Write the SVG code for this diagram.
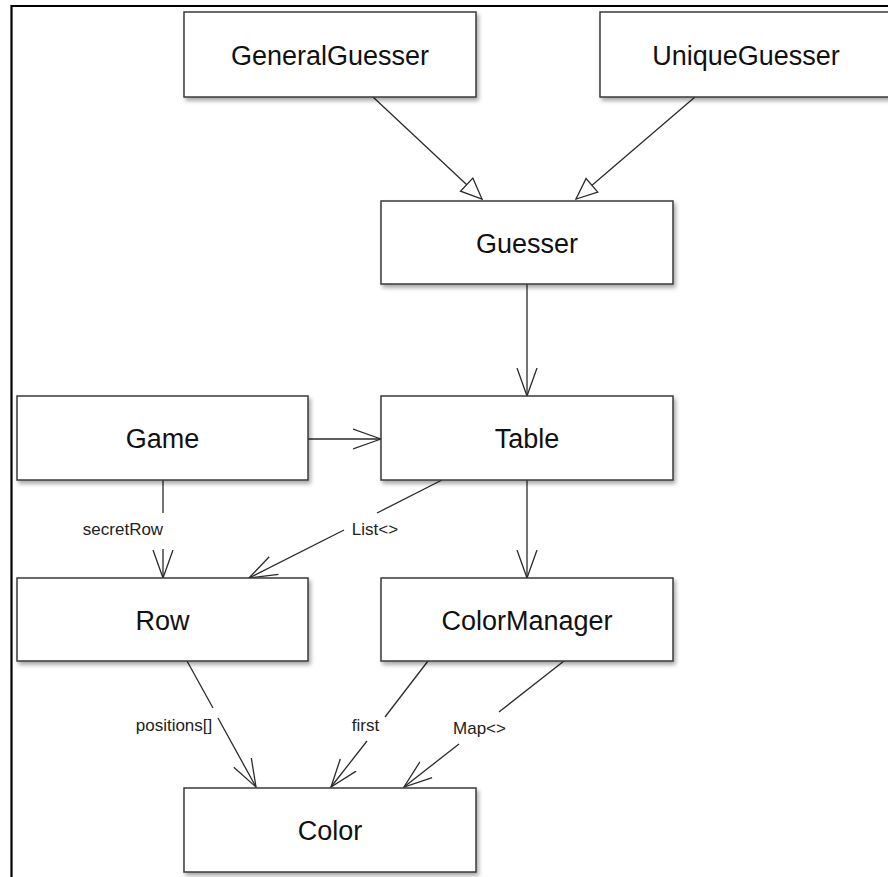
<svg xmlns="http://www.w3.org/2000/svg" width="888" height="877" viewBox="0 0 888 877">
<style>
.box{fill:#fff;stroke:#3a3a3a;stroke-width:1.5;filter:url(#sh)}
.name{font-family:"Liberation Sans",Arial,sans-serif;font-size:27px;fill:#111;text-anchor:middle}
.lbl{font-family:"Liberation Sans",Arial,sans-serif;font-size:17px;fill:#222;text-anchor:middle}
.ln{fill:none;stroke:#2a2a2a;stroke-width:1.3}
.dep{marker-end:url(#open)}
.gen{marker-end:url(#tri)}
</style>
<defs>
<filter id="sh" x="-10%" y="-10%" width="125%" height="140%">
<feDropShadow dx="2" dy="3" stdDeviation="2" flood-color="#000" flood-opacity="0.35"/>
</filter>
<marker id="open" markerUnits="userSpaceOnUse" viewBox="0 0 29 22" refX="28" refY="11" markerWidth="29" markerHeight="22" orient="auto">
<path d="M0,1 L28,11 L0,21" fill="none" stroke="#2a2a2a" stroke-width="1.3"/>
</marker>
<marker id="tri" markerUnits="userSpaceOnUse" viewBox="0 0 24 22" refX="22" refY="11" markerWidth="24" markerHeight="22" orient="auto">
<path d="M1,2 L22,11 L1,20 Z" fill="#fff" stroke="#2a2a2a" stroke-width="1.3"/>
</marker>
</defs>
<rect width="888" height="877" fill="#fff"/>
<path d="M888,6 L11.5,6 L11.5,877" fill="none" stroke="#000" stroke-width="2.2"/>

<g id="connectors">
<path class="ln gen" d="M373,97 L482,199"/>
<path class="ln gen" d="M695,97 L576,199"/>
<path class="ln dep" d="M527,284 L527,396"/>
<path class="ln dep" d="M308,439 L381,439"/>
<path class="ln" d="M163,480 L163,513"/>
<path class="ln dep" d="M163,549 L163,578"/>
<text class="lbl" x="123" y="535">secretRow</text>
<path class="ln" d="M442,480 L377,513"/>
<path class="ln dep" d="M344,530 L249,578"/>
<text class="lbl" x="375" y="535">List&lt;&gt;</text>
<path class="ln dep" d="M527,480 L527,578"/>
<path class="ln" d="M187,661 L213,708"/>
<path class="ln dep" d="M218,718 L256,787"/>
<text class="lbl" x="174" y="731">positions[]</text>
<path class="ln" d="M428,661 L385,717"/>
<path class="ln dep" d="M367,741 L331,787"/>
<text class="lbl" x="365.5" y="731">first</text>
<path class="ln" d="M564,661 L499,712"/>
<path class="ln dep" d="M459,744 L404,787"/>
<text class="lbl" x="479.5" y="734">Map&lt;&gt;</text>
</g>

<g id="GeneralGuesser"><rect class="box" x="184" y="12" width="292" height="85"/><text class="name" x="330" y="65">GeneralGuesser</text></g>
<g id="UniqueGuesser"><rect class="box" x="600" y="12" width="292" height="85"/><text class="name" x="746" y="65">UniqueGuesser</text></g>
<g id="Guesser"><rect class="box" x="381" y="201" width="292" height="83"/><text class="name" x="527" y="253">Guesser</text></g>
<g id="Game"><rect class="box" x="17" y="396" width="291" height="84"/><text class="name" x="162.5" y="448">Game</text></g>
<g id="Table"><rect class="box" x="381" y="396" width="292" height="84"/><text class="name" x="527" y="448">Table</text></g>
<g id="Row"><rect class="box" x="17" y="578" width="291" height="83"/><text class="name" x="162.5" y="630">Row</text></g>
<g id="ColorManager"><rect class="box" x="381" y="578" width="292" height="83"/><text class="name" x="527" y="630">ColorManager</text></g>
<g id="Color"><rect class="box" x="184" y="788" width="292" height="84"/><text class="name" x="330" y="840">Color</text></g>
</svg>
